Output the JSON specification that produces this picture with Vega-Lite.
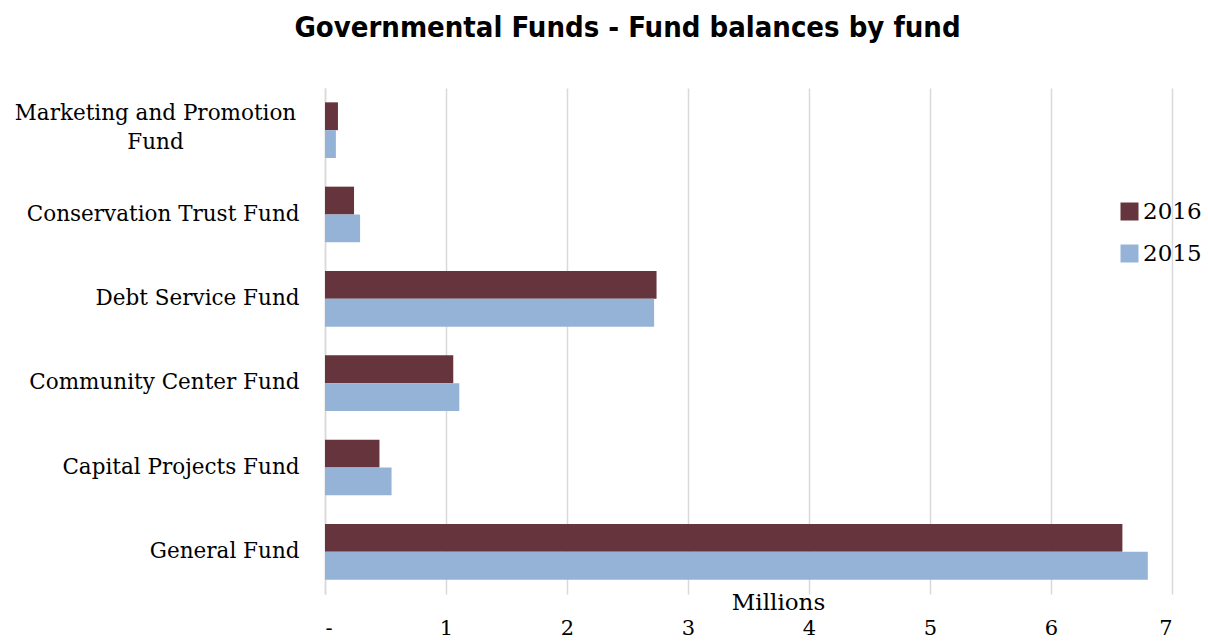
{
  "$schema": "https://vega.github.io/schema/vega-lite/v6.json",
  "width": 847,
  "height": 506,
  "autosize": {"type": "none"},
  "padding": {"left": 325, "top": 88, "right": 36, "bottom": 48},
  "background": "white",
  "title": {
    "text": "Governmental Funds - Fund balances by fund",
    "font": "DejaVu Sans Condensed, Liberation Sans Narrow, Liberation Sans, sans-serif",
    "fontSize": 29,
    "fontWeight": "bold",
    "color": "#000000",
    "anchor": "middle",
    "frame": "group",
    "dx": -121,
    "offset": 45
  },
  "data": {
    "values": [
      {"fund": "Marketing and Promotion Fund", "year": "2016", "value": 0.107},
      {"fund": "Marketing and Promotion Fund", "year": "2015", "value": 0.09},
      {"fund": "Conservation Trust Fund", "year": "2016", "value": 0.24},
      {"fund": "Conservation Trust Fund", "year": "2015", "value": 0.29},
      {"fund": "Debt Service Fund", "year": "2016", "value": 2.74},
      {"fund": "Debt Service Fund", "year": "2015", "value": 2.72},
      {"fund": "Community Center Fund", "year": "2016", "value": 1.06},
      {"fund": "Community Center Fund", "year": "2015", "value": 1.11},
      {"fund": "Capital Projects Fund", "year": "2016", "value": 0.45},
      {"fund": "Capital Projects Fund", "year": "2015", "value": 0.55},
      {"fund": "General Fund", "year": "2016", "value": 6.59},
      {"fund": "General Fund", "year": "2015", "value": 6.80}
    ]
  },
  "mark": {"type": "bar"},
  "encoding": {
    "y": {
      "field": "fund",
      "type": "nominal",
      "sort": ["Marketing and Promotion Fund", "Conservation Trust Fund", "Debt Service Fund", "Community Center Fund", "Capital Projects Fund", "General Fund"],
      "scale": {"paddingInner": 0.34, "paddingOuter": 0.17},
      "axis": {
        "title": null,
        "labelFont": "DejaVu Serif",
        "labelFontSize": 21.5,
        "labelColor": "#000000",
        "labelLineHeight": 29,
        "labelPadding": {"condition": {"test": "datum.value == 'Marketing and Promotion Fund'", "value": 170}, "value": 26},
        "labelAlign": {"condition": {"test": "datum.value == 'Marketing and Promotion Fund'", "value": "center"}, "value": "right"},
        "labelOffset": {"condition": {"test": "datum.value == 'Marketing and Promotion Fund'", "value": -16}, "value": 0},
        "labelLimit": 400,
        "ticks": false,
        "domainColor": "#d9d9d9",
        "domainWidth": 1.5,
        "labelExpr": "datum.label == 'Marketing and Promotion Fund' ? ['Marketing and Promotion', 'Fund'] : datum.label"
      }
    },
    "yOffset": {"field": "year", "type": "nominal", "sort": ["2016", "2015"]},
    "x": {
      "field": "value",
      "type": "quantitative",
      "scale": {"domain": [0, 7], "nice": false},
      "axis": {
        "values": [0, 1, 2, 3, 4, 5, 6, 7],
        "labelExpr": "datum.value == 0 ? '-' : datum.label",
        "labelFont": "DejaVu Serif",
        "labelFontSize": 21,
        "labelColor": "#000000",
        "labelPadding": 23,
        "grid": true,
        "gridColor": "#d9d9d9",
        "gridWidth": 1.5,
        "domain": false,
        "ticks": false,
        "title": "Millions",
        "titleFont": "DejaVu Serif",
        "titleFontSize": 23,
        "titleFontWeight": "normal",
        "titleColor": "#000000",
        "titleX": 453,
        "titleY": -3,
        "titleBaseline": "top"
      }
    },
    "color": {
      "field": "year",
      "type": "nominal",
      "sort": ["2016", "2015"],
      "scale": {"domain": ["2016", "2015"], "range": ["#65343c", "#95b3d7"]},
      "legend": {
        "title": null,
        "orient": "none",
        "legendX": 793,
        "legendY": 112,
        "symbolType": "square",
        "symbolSize": 324,
        "symbolStrokeWidth": 0,
        "labelFont": "DejaVu Serif",
        "labelFontSize": 23,
        "labelColor": "#000000",
        "labelOffset": 2,
        "rowPadding": 18
      }
    }
  },
  "config": {"view": {"stroke": null}}
}
